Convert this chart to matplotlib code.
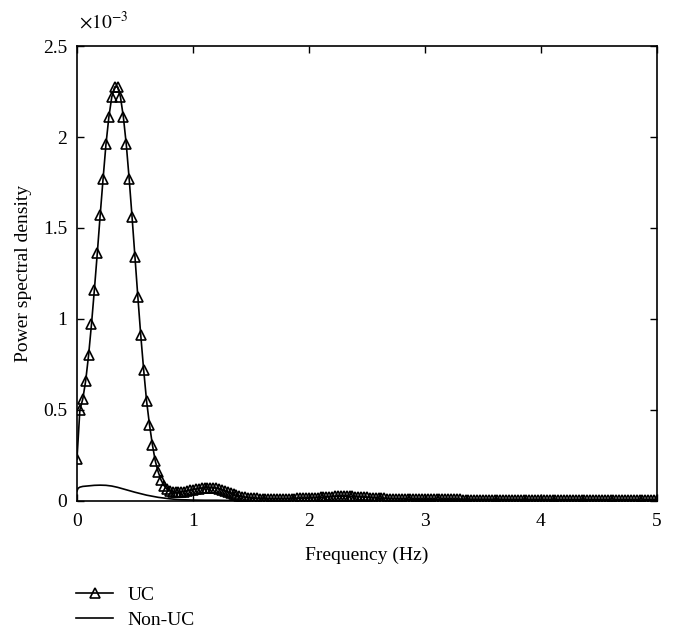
import numpy as np
import matplotlib
matplotlib.use("Agg")
import matplotlib.pyplot as plt
from matplotlib.ticker import FuncFormatter

# frequency grid of the UC spectrum (Hz), 0.025 Hz step
uc_freq = np.arange(201) * 0.025

# UC power spectral density (x 1e-3)
uc_psd = [
    0.23, 0.50, 0.56, 0.66, 0.80, 0.97, 1.16, 1.36, 1.57, 1.77,
    1.96, 2.11, 2.22, 2.275, 2.275, 2.22, 2.11, 1.96, 1.77, 1.56,
    1.34, 1.12, 0.91, 0.72, 0.55, 0.42, 0.31, 0.22, 0.16, 0.115,
    0.085, 0.065, 0.055, 0.050, 0.048, 0.048, 0.050, 0.052, 0.055, 0.058,
    0.062, 0.065, 0.068, 0.070, 0.072, 0.073, 0.073, 0.072, 0.070, 0.066,
    0.060, 0.054, 0.048, 0.042, 0.036, 0.031, 0.027, 0.023, 0.020, 0.018,
    0.016, 0.015, 0.014, 0.013, 0.013, 0.012, 0.012, 0.012, 0.012, 0.012,
    0.012, 0.012, 0.012, 0.013, 0.013, 0.013, 0.014, 0.014, 0.015, 0.015,
    0.016, 0.017, 0.018, 0.019, 0.020, 0.021, 0.022, 0.023, 0.024, 0.025,
    0.025, 0.026, 0.026, 0.026, 0.025, 0.025, 0.024, 0.023, 0.022, 0.021,
    0.020, 0.019, 0.018, 0.017, 0.016, 0.015, 0.014, 0.013, 0.013, 0.012,
    0.012, 0.011, 0.011, 0.011, 0.010, 0.010, 0.010, 0.010, 0.010, 0.009,
    0.009, 0.009, 0.009, 0.009, 0.009, 0.009, 0.009, 0.009, 0.009, 0.009,
    0.009, 0.009, 0.009, 0.008, 0.008, 0.008, 0.008, 0.008, 0.008, 0.008,
    0.008, 0.008, 0.008, 0.008, 0.008, 0.008, 0.008, 0.007, 0.007, 0.007,
    0.007, 0.007, 0.007, 0.007, 0.007, 0.007, 0.007, 0.007, 0.007, 0.007,
    0.007, 0.007, 0.007, 0.006, 0.006, 0.006, 0.006, 0.006, 0.006, 0.006,
    0.006, 0.006, 0.006, 0.006, 0.006, 0.006, 0.006, 0.006, 0.006, 0.006,
    0.006, 0.006, 0.005, 0.005, 0.005, 0.005, 0.005, 0.005, 0.005, 0.005,
    0.005, 0.005, 0.005, 0.005, 0.005, 0.005, 0.005, 0.005, 0.005, 0.005,
    0.005,
]

# Non-UC spectrum (x 1e-3)
nonuc_freq = [0, 0.01, 0.025, 0.05, 0.1, 0.15, 0.2, 0.25, 0.3, 0.35,
              0.4, 0.45, 0.5, 0.55, 0.6, 0.65, 0.7, 0.75, 0.8, 0.85,
              0.9, 0.95, 1.0, 1.1, 1.2, 1.3, 1.4, 1.5, 1.75, 2.0,
              2.25, 2.5, 2.75, 3.0, 3.5, 4.0, 4.5, 5.0]
nonuc_psd = [0.055, 0.070, 0.076, 0.080, 0.083, 0.086, 0.087, 0.086, 0.082, 0.075,
             0.066, 0.057, 0.048, 0.040, 0.032, 0.026, 0.020, 0.016, 0.012, 0.009,
             0.007, 0.006, 0.005, 0.004, 0.004, 0.003, 0.003, 0.003, 0.002, 0.002,
             0.003, 0.003, 0.002, 0.002, 0.002, 0.001, 0.001, 0.001]

x_ticks = [0, 1, 2, 3, 4, 5]
y_ticks = [0, 0.5, 1, 1.5, 2, 2.5]

plt.rcParams['font.family'] = ['Liberation Serif', 'DejaVu Serif']
plt.rcParams['mathtext.fontset'] = 'stix'

fig = plt.figure(figsize=(6.74, 6.39), dpi=100)
ax = fig.add_axes([0.1142, 0.2160, 0.8605, 0.712])

ax.plot(uc_freq, uc_psd, color='black', lw=1.2, marker='^', markersize=7,
        markerfacecolor='none', markeredgecolor='black', markeredgewidth=1.2,
        label='UC')
ax.plot(nonuc_freq, nonuc_psd, color='black', lw=1.2, label='Non-UC')

ax.set_xlim(0, 5)
ax.set_ylim(0, 2.5)
ax.set_xticks(x_ticks)
ax.set_yticks(y_ticks)
ax.yaxis.set_major_formatter(FuncFormatter(lambda v, p: '%g' % v))
ax.tick_params(direction='in', top=True, right=True, length=5, width=1,
               labelsize=14)
ax.tick_params(axis='x', pad=9)
ax.tick_params(axis='y', pad=7)
for s in ax.spines.values():
    s.set_linewidth(1.2)

ax.set_xlabel('Frequency (Hz)', fontsize=14, labelpad=12)
ax.set_ylabel('Power spectral density', fontsize=14, labelpad=8)
ax.text(0.003, 1.03, r'$\times 10^{-3}$', transform=ax.transAxes,
        fontsize=14, ha='left', va='bottom')

fig.legend(loc='upper left', bbox_to_anchor=(0.113, 0.082), frameon=False,
           fontsize=14, handlelength=1.9, handletextpad=0.75, labelspacing=0.35,
           borderaxespad=0, borderpad=0)

fig.savefig('out.png', dpi=100)
